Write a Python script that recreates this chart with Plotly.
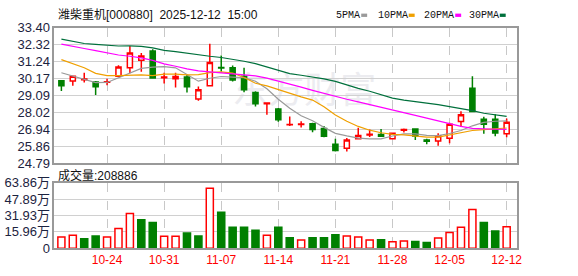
import plotly.graph_objects as go
import pandas as pd

# ---------------- data ----------------
dates = pd.bdate_range("2025-10-20", "2025-12-12").strftime("%m-%d").tolist()

opens = [30.03, 30.01, 30.10, 29.95, 29.93, 30.31, 30.86, 31.33, 31.93, 30.22,
         30.16, 30.27, 28.86, 29.71, 30.88, 30.86, 30.31, 29.28, 28.56, 28.23,
         27.22, 27.24, 27.29, 26.99, 25.99, 25.73, 26.33, 26.58, 26.61, 26.33,
         26.88, 26.95, 26.26, 26.20, 26.36, 27.44, 29.55, 27.58, 27.58, 26.66]
highs = [30.07, 30.31, 30.54, 30.01, 30.15, 31.02, 32.24, 31.79, 32.04, 30.54,
         30.54, 30.40, 29.66, 32.38, 31.63, 31.00, 30.86, 29.36, 28.62, 28.29,
         27.75, 27.45, 27.35, 27.15, 26.33, 26.39, 27.03, 26.93, 26.95, 26.73,
         26.99, 26.95, 26.33, 26.69, 27.35, 28.09, 30.31, 27.73, 27.89, 27.63]
lows = [29.38, 29.71, 29.91, 29.12, 29.75, 30.27, 30.50, 30.60, 30.21, 29.85,
        29.60, 29.28, 28.75, 29.71, 30.62, 29.98, 29.30, 28.39, 27.87, 27.42,
        27.15, 27.05, 26.75, 26.43, 25.53, 25.53, 26.29, 26.45, 26.49, 26.29,
        26.73, 26.25, 25.99, 25.89, 26.05, 27.09, 28.07, 26.65, 26.49, 26.43]
closes = [29.71, 30.31, 30.14, 29.65, 29.96, 30.90, 31.79, 31.61, 30.21, 30.26,
          30.30, 29.65, 29.46, 31.19, 30.84, 30.07, 29.46, 28.57, 28.61, 27.54,
          27.24, 27.27, 26.93, 26.49, 25.59, 26.25, 26.55, 26.62, 26.49, 26.69,
          26.92, 26.51, 26.18, 26.52, 27.26, 27.86, 28.07, 27.26, 26.70, 27.38]

ma5 = [30.54, 30.34, 30.11, 29.91, 29.92, 30.22, 30.52, 30.82, 30.90, 30.93,
       30.85, 30.43, 30.00, 30.19, 30.30, 30.26, 30.23, 30.00, 29.52, 28.85,
       28.28, 27.80, 27.48, 27.06, 26.68, 26.52, 26.38, 26.33, 26.33, 26.51,
       26.64, 26.64, 26.55, 26.54, 26.67, 26.86, 27.16, 27.38, 27.45, 27.47]
ma10 = [31.37, 31.10, 30.86, 30.50, 30.36, 30.36, 30.40, 30.40, 30.36, 30.45,
        30.45, 30.40, 30.42, 30.55, 30.60, 30.52, 30.24, 29.87, 29.70, 29.46,
        29.22, 29.00, 28.80, 28.38, 27.85, 27.45, 27.12, 26.88, 26.72, 26.62,
        26.58, 26.50, 26.44, 26.44, 26.57, 26.73, 26.86, 26.92, 26.96, 27.02]
ma20 = [32.36, 32.24, 32.08, 31.95, 31.81, 31.67, 31.59, 31.49, 31.33, 31.10,
        30.95, 30.78, 30.66, 30.60, 30.56, 30.50, 30.42, 30.34, 30.20, 30.02,
        29.84, 29.62, 29.42, 29.22, 29.02, 28.85, 28.68, 28.50, 28.33, 28.17,
        27.98, 27.82, 27.65, 27.47, 27.30, 27.12, 27.00, 26.96, 26.94, 26.93]
ma30 = [32.68, 32.52, 32.40, 32.34, 32.28, 32.24, 32.25, 32.22, 32.12, 31.96,
        31.88, 31.77, 31.67, 31.59, 31.51, 31.41, 31.27, 31.12, 30.92, 30.70,
        30.48, 30.38, 30.27, 30.15, 29.99, 29.76, 29.54, 29.36, 29.14, 28.92,
        28.80, 28.72, 28.61, 28.51, 28.39, 28.29, 28.13, 27.96, 27.84, 27.76]

volumes = [10.8, 12.6, 9.3, 12.0, 10.8, 19.1, 33.9, 27.8, 25.0, 11.7,
           11.7, 14.8, 12.0, 58.6, 35.2, 20.4, 20.4, 17.6, 12.6, 20.4,
           10.2, 8.0, 10.2, 10.2, 13.0, 12.0, 10.8, 8.0, 8.3, 6.2,
           7.1, 6.5, 5.6, 9.9, 15.4, 20.4, 37.9, 25.0, 16.7, 20.89]
prev_close = 29.50

price_ticks = [24.79, 25.86, 26.94, 28.02, 29.09, 30.17, 31.24, 32.32, 33.40]
vol_ticks = [0, 15.96, 31.93, 47.89, 63.86]
vol_tick_text = ["0", "15.96万", "31.93万", "47.89万", "63.86万"]
date_ticks = ["10-24", "10-31", "11-07", "11-14", "11-21", "11-28", "12-05", "12-12"]

title_text = "潍柴重机[000880]  2025-12-12  15:00"
vol_label = "成交量:208886"
ma_names = ["5PMA", "10PMA", "20PMA", "30PMA"]
ma_colors = ["#9a9a9a", "#f0a000", "#ff00ff", "#00703c"]

# ---------------- figure ----------------
W, H = 578, 276
RED, GREEN = "#ff0000", "#008000"
FONT = "Liberation Sans, Arial, Noto Sans CJK SC"
TICKCOL = "#1c2340"

x = list(range(len(dates)))
tickvals = [dates.index(t) for t in date_ticks]

fig = go.Figure()

fig.add_trace(go.Candlestick(
    x=x, open=opens, high=highs, low=lows, close=closes,
    increasing=dict(line=dict(color=RED, width=1.5), fillcolor="white"),
    decreasing=dict(line=dict(color=GREEN, width=1.5), fillcolor=GREEN),
    whiskerwidth=0, xaxis="x", yaxis="y", showlegend=False, hoverinfo="skip"))

for vals, col in zip([ma5, ma10, ma20, ma30], ma_colors):
    fig.add_trace(go.Scatter(x=x, y=vals, mode="lines",
                             line=dict(color=col, width=1.2),
                             xaxis="x", yaxis="y", showlegend=False, hoverinfo="skip"))

prevs = [prev_close] + closes[:-1]
up = [c >= p for c, p in zip(closes, prevs)]
fig.add_trace(go.Bar(
    x=x, y=volumes, width=0.62,
    marker=dict(color=["white" if u else GREEN for u in up],
                line=dict(color=[RED if u else GREEN for u in up], width=1.5)),
    xaxis="x2", yaxis="y2", showlegend=False, hoverinfo="skip"))

xdom = [55 / W, 522 / W]
xr = [-0.61, 39.87]
common_x = dict(domain=xdom, range=xr, tickvals=tickvals, showgrid=True,
                gridcolor="#c8c8c8", griddash="dash", gridwidth=1, zeroline=False,
                showline=True, mirror=True, linecolor="#999999", linewidth=1.5,
                ticks="", fixedrange=True)
common_y = dict(showgrid=True, gridcolor="#d0d0d0", gridwidth=1.2, zeroline=False,
                showline=True, mirror=True, linecolor="#999999", linewidth=1.5,
                ticks="", tickfont=dict(family=FONT, size=13, color=TICKCOL),
                fixedrange=True)

fig.update_layout(
    width=W, height=H, margin=dict(l=0, r=0, t=0, b=0),
    paper_bgcolor="white", plot_bgcolor="white", showlegend=False,
    xaxis=dict(**common_x, anchor="y", showticklabels=False,
               rangeslider=dict(visible=False)),
    xaxis2=dict(**common_x, anchor="y2", ticktext=date_ticks,
                tickfont=dict(family=FONT, size=12, color=RED)),
    yaxis=dict(**common_y, domain=[1 - 165 / H, 1 - 22 / H], range=[24.79, 33.40],
               tickvals=price_ticks, ticktext=[f"{v:.2f}" for v in price_ticks],
               anchor="x"),
    yaxis2=dict(**common_y, domain=[1 - 255 / H, 1 - 186 / H], range=[0, 63.86],
                tickvals=vol_ticks, ticktext=vol_tick_text, anchor="x2"),
    boxgap=0.36,
)

annotations = [
    dict(text=title_text, x=57 / W, y=1 - 8.5 / H, xref="paper", yref="paper",
         xanchor="left", yanchor="middle", showarrow=False,
         font=dict(family=FONT, size=12, color="#111111")),
    dict(text=vol_label, x=57 / W, y=1 - 178 / H, xref="paper", yref="paper",
         xanchor="left", yanchor="middle", showarrow=False,
         font=dict(family=FONT, size=12, color="#111111")),
]
shapes = [
    dict(type="rect", xref="paper", yref="paper", x0=230 / W, x1=385 / W,
         y0=1 - 112 / H, y1=1 - 70 / H, line=dict(width=0),
         fillcolor="rgba(0,0,0,0)", layer="below",
         label=dict(text="东方财富", textposition="middle center",
                    font=dict(family="Noto Sans CJK SC", size=36, color="#ececf0"))),
]
leg_text_x = [338, 380, 426, 472]
leg_mark_x = [365, 413, 460, 505]
for name, col, tx, mx in zip(ma_names, ma_colors, leg_text_x, leg_mark_x):
    annotations.append(dict(text=name, x=tx / W, y=1 - 8.5 / H, xref="paper",
                            yref="paper", xanchor="left", yanchor="middle",
                            showarrow=False,
                            font=dict(family="Liberation Mono", size=10, color="#111111")))
    shapes.append(dict(type="rect", xref="paper", yref="paper", x0=mx / W,
                       x1=(mx + 6) / W, y0=1 - 10.5 / H, y1=1 - 7.0 / H,
                       line=dict(width=0), fillcolor=col))
fig.update_layout(annotations=annotations, shapes=shapes)

fig.write_html("out.html")
